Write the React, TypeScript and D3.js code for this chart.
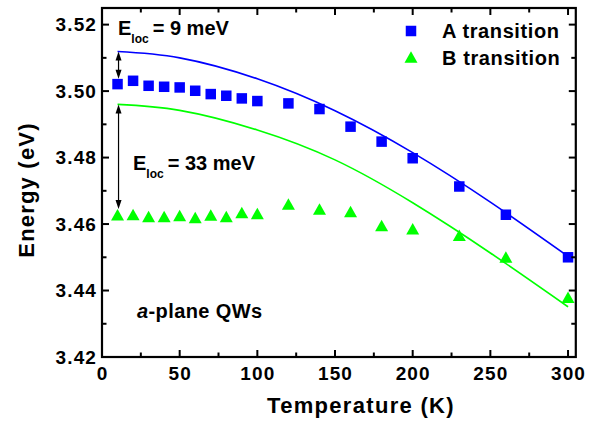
import React from "react";
import * as d3 from "d3";

// ---- data ----
const tempA = [10, 20, 30, 40, 50, 60, 70, 80, 90, 100, 120, 140, 160, 180, 200, 230, 260, 300];
const energyA = [3.5021, 3.5031, 3.5016, 3.5013, 3.5011, 3.5001, 3.4991, 3.4986, 3.4978, 3.497, 3.4963, 3.4946, 3.4893, 3.4848, 3.4798, 3.4713, 3.4628, 3.45];
const tempB = [10, 20, 30, 40, 50, 60, 70, 80, 90, 100, 120, 140, 160, 180, 200, 230, 260, 300];
const energyB = [3.4628, 3.4629, 3.4623, 3.4623, 3.4626, 3.462, 3.4627, 3.4623, 3.4635, 3.4632, 3.466, 3.4645, 3.4638, 3.4596, 3.4586, 3.4566, 3.4501, 3.438];
const fitT = [10, 50, 100, 150, 200, 250, 300];
const fitA = [3.5119, 3.51, 3.5037, 3.4941, 3.4815, 3.4666, 3.4503];
const fitB = [3.496, 3.4942, 3.4883, 3.4793, 3.4664, 3.4513, 3.4351];
const xMajor = [0, 50, 100, 150, 200, 250, 300];
const xMinor = [25, 75, 125, 175, 225, 275];
const yMajor = [3.42, 3.44, 3.46, 3.48, 3.5, 3.52];
const yMinor = [3.43, 3.45, 3.47, 3.49, 3.51];
const seriesNames = ["A transition", "B transition"];
const elocLabels = ["9 meV", "33 meV"];

const W = 594;
const H = 423;
const FONT = "'Liberation Sans', Arial, Helvetica, sans-serif";
const BLUE = "#0000ff";
const GREEN = "#00ff00";

export default function App() {
  const x = d3.scaleLinear().domain([0, 305]).range([102, 575.8]);
  const y = d3.scaleLinear().domain([3.42, 3.525]).range([357, 8]);
  const left = x.range()[0];
  const right = x.range()[1];
  const top = y.range()[1];
  const bottom = y.range()[0];

  const line = d3
    .line<[number, number]>()
    .x((d) => x(d[0]))
    .y((d) => y(d[1]))
    .curve(d3.curveNatural);

  const pathA = line(fitT.map((t, i) => [t, fitA[i]] as [number, number])) || "";
  const pathB = line(fitT.map((t, i) => [t, fitB[i]] as [number, number])) || "";

  const sq = 10.5;
  const triW = 13;
  const triH = 11.5;
  const triPath = `M0,${-triH / 2}L${triW / 2},${triH / 2}L${-triW / 2},${triH / 2}Z`;

  const majLen = 7;
  const minLen = 4.5;

  // arrows
  const ax = x(fitT[0]) + 1;
  const arrow1 = { x: ax, y1: y(fitA[0]), y2: y(energyA[0]) - sq / 2 };
  const arrow2 = { x: ax, y1: y(fitB[0]), y2: y(energyB[0]) - triH / 2 };
  const head = (xx: number, yy: number, dir: number) =>
    `M${xx},${yy}L${xx - 3},${yy + dir * 9}L${xx + 3},${yy + dir * 9}Z`;

  return (
    <div style={{ position: "fixed", left: 0, top: 0 }}>
      <svg width={W} height={H} style={{ display: "block", background: "#fff" }} fontFamily={FONT}>
        <rect x={0} y={0} width={W} height={H} fill="#fff" />
        {/* fit curves */}
        <path d={pathA} fill="none" stroke={BLUE} strokeWidth={1.6} />
        <path d={pathB} fill="none" stroke={GREEN} strokeWidth={1.6} />

        {/* data */}
        {tempA.map((t, i) => (
          <rect key={"a" + i} x={x(t) - sq / 2} y={y(energyA[i]) - sq / 2} width={sq} height={sq} fill={BLUE} />
        ))}
        {tempB.map((t, i) => (
          <path key={"b" + i} d={triPath} transform={`translate(${x(t)},${y(energyB[i])})`} fill={GREEN} />
        ))}

        {/* arrows */}
        {[arrow1, arrow2].map((a, i) => (
          <g key={"ar" + i}>
            <line x1={a.x} x2={a.x} y1={a.y1 + 4} y2={a.y2 - 4} stroke="#000" strokeWidth={1.2} />
            <path d={head(a.x, a.y1, 1)} fill="#000" />
            <path d={head(a.x, a.y2, -1)} fill="#000" />
          </g>
        ))}

        {/* frame */}
        <rect x={left} y={top} width={right - left} height={bottom - top} fill="none" stroke="#000" strokeWidth={2.2} />

        {/* ticks */}
        {xMajor.map((t) => (
          <g key={"xm" + t}>
            <line x1={x(t)} x2={x(t)} y1={bottom} y2={bottom - majLen} stroke="#000" strokeWidth={2} />
            <line x1={x(t)} x2={x(t)} y1={top} y2={top + majLen} stroke="#000" strokeWidth={2} />
            <text x={x(t) + 0.5} y={380} textAnchor="middle" fontSize={19} fontWeight="bold" letterSpacing={1.1}>
              {t}
            </text>
          </g>
        ))}
        {xMinor.map((t) => (
          <g key={"xn" + t}>
            <line x1={x(t)} x2={x(t)} y1={bottom} y2={bottom - minLen} stroke="#000" strokeWidth={2} />
            <line x1={x(t)} x2={x(t)} y1={top} y2={top + minLen} stroke="#000" strokeWidth={2} />
          </g>
        ))}
        {yMajor.map((v) => (
          <g key={"ym" + v}>
            <line x1={left} x2={left + majLen} y1={y(v)} y2={y(v)} stroke="#000" strokeWidth={2} />
            <line x1={right} x2={right - majLen} y1={y(v)} y2={y(v)} stroke="#000" strokeWidth={2} />
            <text x={97} y={y(v) + 6.5} textAnchor="end" fontSize={19} fontWeight="bold" letterSpacing={1.1}>
              {v.toFixed(2)}
            </text>
          </g>
        ))}
        {yMinor.map((v) => (
          <g key={"yn" + v}>
            <line x1={left} x2={left + minLen} y1={y(v)} y2={y(v)} stroke="#000" strokeWidth={2} />
            <line x1={right} x2={right - minLen} y1={y(v)} y2={y(v)} stroke="#000" strokeWidth={2} />
          </g>
        ))}

        {/* axis titles */}
        <text x={361} y={413} textAnchor="middle" fontSize={22} fontWeight="bold" letterSpacing={1.3}>
          Temperature (K)
        </text>
        <text transform="translate(34,190) rotate(-90)" textAnchor="middle" fontSize={22} fontWeight="bold" letterSpacing={1.2}>
          Energy (eV)
        </text>

        {/* legend */}
        <rect x={411 - sq / 2} y={31 - sq / 2} width={sq} height={sq} fill={BLUE} />
        <text x={442} y={37.5} fontSize={20} fontWeight="bold" letterSpacing={0.6}>
          {seriesNames[0]}
        </text>
        <path d={triPath} transform="translate(411,57)" fill={GREEN} />
        <text x={442} y={65} fontSize={20} fontWeight="bold" letterSpacing={0.6}>
          {seriesNames[1]}
        </text>

        {/* annotations */}
        <text x={118} y={34.5} fontSize={20} fontWeight="bold">
          <tspan>E</tspan>
          <tspan fontSize={12} dy={8}>loc</tspan>
          <tspan dy={-8} dx={4}>{"= " + elocLabels[0]}</tspan>
        </text>
        <text x={133} y={169.5} fontSize={20} fontWeight="bold">
          <tspan>E</tspan>
          <tspan fontSize={12} dy={8}>loc</tspan>
          <tspan dy={-8} dx={4}>{"= " + elocLabels[1]}</tspan>
        </text>
        <text x={137} y={318} fontSize={20} fontWeight="bold" letterSpacing={0.4}>
          <tspan fontStyle="italic">a</tspan>
          <tspan>-plane QWs</tspan>
        </text>
      </svg>
    </div>
  );
}
